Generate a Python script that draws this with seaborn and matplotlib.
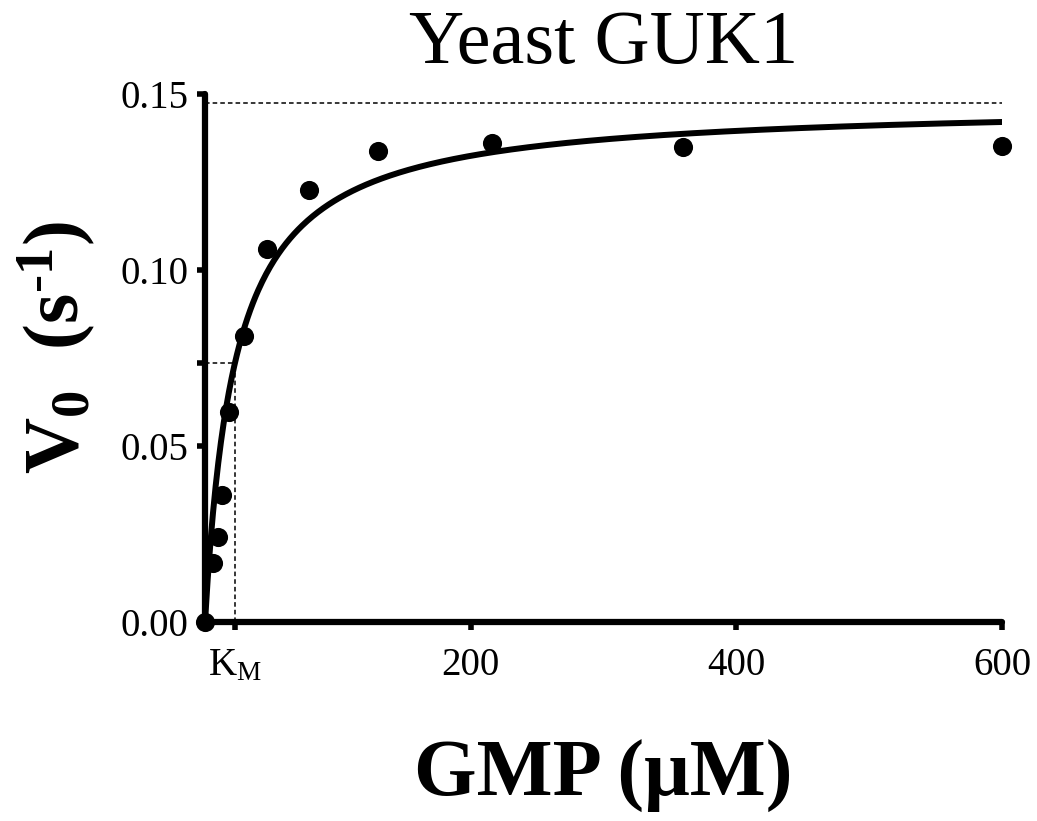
import numpy as np
import pandas as pd
import matplotlib
matplotlib.use("Agg")
import matplotlib.pyplot as plt
import seaborn as sns

# Data
gmp_uM = [0, 6, 10, 12.5, 18, 29, 47, 78, 130, 216, 360, 600]
v0 = [0.0, 0.0167, 0.0242, 0.0361, 0.0597, 0.0813, 0.1059, 0.1227, 0.1339, 0.1362, 0.1350, 0.1352]
# Michaelis-Menten fit parameters
vmax = 0.1474
km = 22.6
x_ticks = [km, 200, 400, 600]
x_ticklabels = [r"K$_\mathrm{M}$", "200", "400", "600"]
y_ticks = [0.0, 0.05, vmax / 2, 0.10, 0.15]
y_ticklabels = ["0.00", "0.05", "", "0.10", "0.15"]

sns.set_style("ticks", {"text.color": "black", "axes.labelcolor": "black",
                        "xtick.color": "black", "ytick.color": "black",
                        "axes.edgecolor": "black"})
plt.rcParams["font.family"] = ["Liberation Serif", "DejaVu Serif"]
plt.rcParams["mathtext.fontset"] = "custom"
plt.rcParams["mathtext.rm"] = "Liberation Serif"
plt.rcParams["mathtext.it"] = "Liberation Serif:italic"
plt.rcParams["mathtext.bf"] = "Liberation Serif:bold"

fig = plt.figure(figsize=(10.37, 8.21), dpi=100)
ax = fig.add_axes([205 / 1037, 1 - 622 / 821, (1002 - 205) / 1037, (622 - 94) / 821])

df = pd.DataFrame({"GMP": gmp_uM, "V0": v0})
xs = np.linspace(0, 600, 600)
fit = pd.DataFrame({"GMP": xs, "V0": vmax * xs / (km + xs)})

# guide lines
ax.plot([0, 600], [vmax, vmax], color="black", lw=1.1, ls=(0, (3, 2)), clip_on=False, zorder=1)
ax.plot([0, km], [vmax / 2, vmax / 2], color="black", lw=1.1, ls=(0, (3, 2)), clip_on=False, zorder=1)
ax.plot([km, km], [0, vmax / 2], color="black", lw=1.1, ls=(0, (3, 2)), clip_on=False, zorder=1)

sns.lineplot(data=fit, x="GMP", y="V0", ax=ax, color="black", lw=4.3, zorder=3)
sns.scatterplot(data=df, x="GMP", y="V0", ax=ax, color="black", s=190, edgecolor="black",
                linewidth=0, zorder=4, clip_on=False)

ax.set_xlim(0, 600)
ax.set_ylim(0, 0.15)
ax.set_xticks(x_ticks)
ax.set_xticklabels(x_ticklabels)
ax.set_yticks(y_ticks)
ax.set_yticklabels(y_ticklabels)

for s in ["top", "right"]:
    ax.spines[s].set_visible(False)
for s in ["left", "bottom"]:
    ax.spines[s].set_linewidth(4.5)
    ax.spines[s].set_color("black")
    ax.spines[s].set_capstyle("round")
ax.tick_params(axis="both", direction="out", length=6, width=4, labelsize=28, color="black",
               labelcolor="black")
ax.tick_params(axis="x", pad=12)
ax.tick_params(axis="y", pad=6)

ax.set_title("Yeast GUK1", fontsize=55, pad=22, color="black")
ax.set_xlabel("GMP (μM)", fontsize=58, fontweight="bold", labelpad=40, color="black")
ax.set_ylabel(r"V$_\mathbf{0}$  (s$^{\mathbf{\text{-}1}}$)", fontsize=56, fontweight="bold",
              color="black")
ax.yaxis.set_label_coords(-0.135, 0.52)

fig.savefig("out.png", dpi=100)
